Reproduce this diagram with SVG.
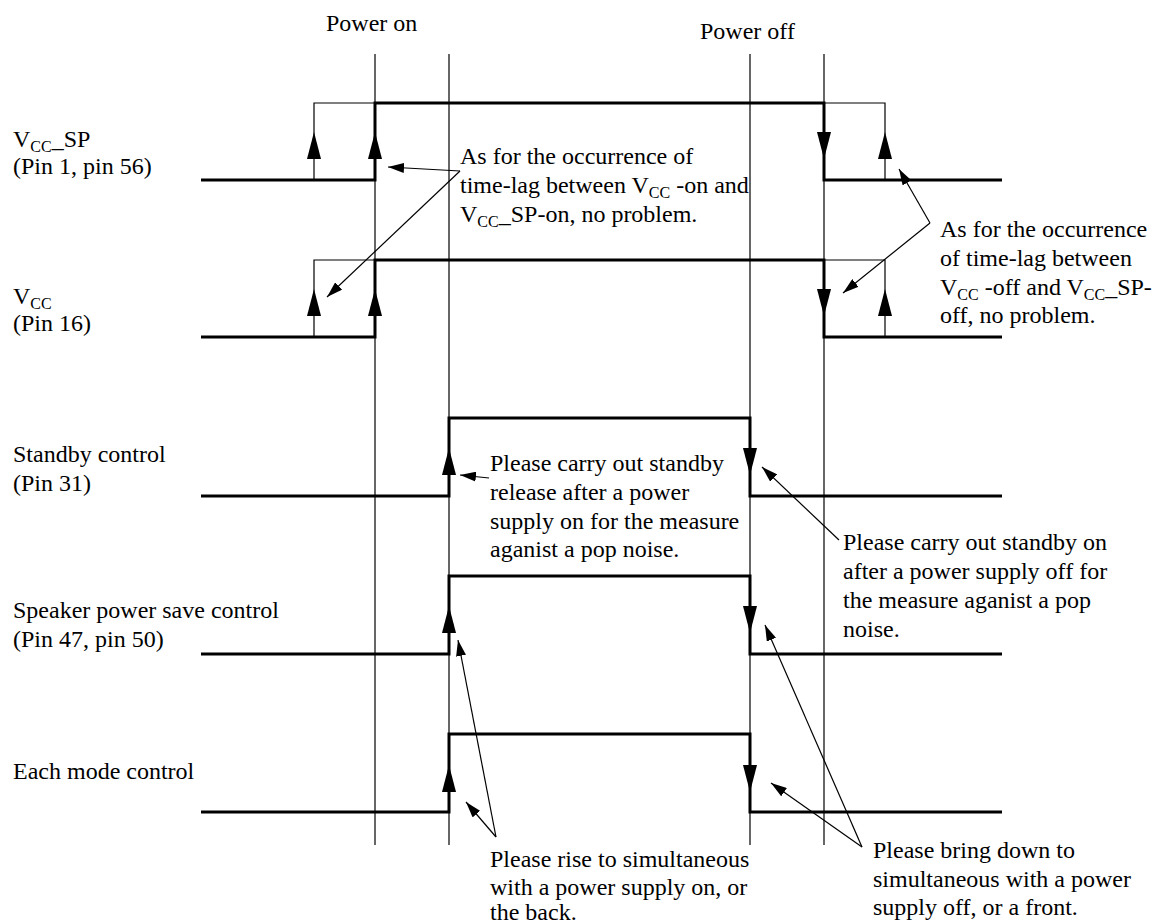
<svg xmlns="http://www.w3.org/2000/svg" xmlns:xlink="http://www.w3.org/1999/xlink" width="1152" height="924" viewBox="0 0 1152 924">
<style>
text{font-family:"Liberation Serif",Tinos,"Times New Roman",Times,"DejaVu Serif",serif;font-size:24px;fill:#000}
.sub{font-size:16px}
.guide{stroke:#000;stroke-width:1.2;fill:none}
.sig{stroke:#000;stroke-width:3;fill:none}
.thin{stroke:#000;stroke-width:1.2;fill:none}
.ann{stroke:#000;stroke-width:1.2;fill:none;marker-end:url(#ah)}
</style>
<defs>
<marker id="ah" viewBox="0 0 16 10" refX="16" refY="5" markerWidth="16" markerHeight="10" markerUnits="userSpaceOnUse" orient="auto">
<path d="M0,0 L16,5 L0,10 Z" fill="#000"/>
</marker>
<path id="up" d="M0,0 L-7,27 L7,27 Z" fill="#000"/>
<path id="dn" d="M-7,0 L7,0 L0,27 Z" fill="#000"/>
</defs>
<rect width="1152" height="924" fill="#fff"/>

<g id="guides">
<line class="guide" x1="375" y1="54" x2="375" y2="845"/>
<line class="guide" x1="449" y1="54" x2="449" y2="845"/>
<line class="guide" x1="750" y1="54" x2="750" y2="845"/>
<line class="guide" x1="824" y1="54" x2="824" y2="845"/>
<text x="326" y="31">Power on</text>
<text x="700" y="39">Power off</text>
</g>

<g id="vccsp">
<text x="13" y="147">V<tspan class="sub" dy="5">CC</tspan><tspan dy="-5">_SP</tspan></text>
<text x="13" y="174">(Pin 1, pin 56)</text>
<path class="sig" d="M201,180 H375 V103 H824 V180 H1002"/>
<path class="thin" d="M314,180 V103 H375 M824,103 H885 V180"/>
<use xlink:href="#up" x="314" y="132"/>
<use xlink:href="#up" x="375" y="132"/>
<use xlink:href="#dn" x="824" y="132"/>
<use xlink:href="#up" x="885" y="132"/>
</g>

<g id="vcc">
<text x="13" y="304">V<tspan class="sub" dy="5">CC</tspan></text>
<text x="13" y="331">(Pin 16)</text>
<path class="sig" d="M201,337 H375 V260 H824 V337 H1002"/>
<path class="thin" d="M314,337 V260 H375 M824,260 H885 V337"/>
<use xlink:href="#up" x="314" y="289"/>
<use xlink:href="#up" x="375" y="289"/>
<use xlink:href="#dn" x="824" y="289"/>
<use xlink:href="#up" x="885" y="289"/>
</g>

<g id="standby">
<text x="13" y="462">Standby control</text>
<text x="13" y="491">(Pin 31)</text>
<path class="sig" d="M201,496 H449 V418 H750 V496 H1002"/>
<use xlink:href="#up" x="449" y="448"/>
<use xlink:href="#dn" x="750" y="448"/>
</g>

<g id="speaker">
<text x="13" y="618">Speaker power save control</text>
<text x="13" y="647">(Pin 47, pin 50)</text>
<path class="sig" d="M201,654 H449 V576 H750 V654 H1002"/>
<use xlink:href="#up" x="449" y="606"/>
<use xlink:href="#dn" x="750" y="606"/>
</g>

<g id="eachmode">
<text x="13" y="779">Each mode control</text>
<path class="sig" d="M201,812 H449 V734 H750 V812 H1002"/>
<use xlink:href="#up" x="449" y="765"/>
<use xlink:href="#dn" x="750" y="765"/>
</g>

<g id="note-on-lag">
<text x="460" y="164">As for the occurrence of</text>
<text x="460" y="193">time-lag between V<tspan class="sub" dy="5">CC</tspan><tspan dy="-5"> -on and</tspan></text>
<text x="460" y="222">V<tspan class="sub" dy="5">CC</tspan><tspan dy="-5">_SP-on, no problem.</tspan></text>
</g>

<g id="note-off-lag">
<text x="940" y="237">As for the occurrence</text>
<text x="940" y="266">of time-lag between</text>
<text x="940" y="295">V<tspan class="sub" dy="5">CC</tspan><tspan dy="-5"> -off and V</tspan><tspan class="sub" dy="5">CC</tspan><tspan dy="-5">_SP-</tspan></text>
<text x="940" y="323">off, no problem.</text>
</g>

<g id="note-standby-release">
<text x="490" y="471">Please carry out standby</text>
<text x="490" y="500">release after a power</text>
<text x="490" y="529">supply on for the measure</text>
<text x="490" y="557">aganist a pop noise.</text>
</g>

<g id="note-standby-on">
<text x="843" y="550">Please carry out standby on</text>
<text x="843" y="579">after a power supply off for</text>
<text x="843" y="608">the measure aganist a pop</text>
<text x="843" y="637">noise.</text>
</g>

<g id="note-rise">
<text x="490" y="867">Please rise to simultaneous</text>
<text x="490" y="895">with a power supply on, or</text>
<text x="490" y="920">the back.</text>
</g>

<g id="note-fall">
<text x="873" y="858">Please bring down to</text>
<text x="873" y="887">simultaneous with a power</text>
<text x="873" y="915">supply off, or a front.</text>
</g>

<g id="connectors">
<line class="ann" x1="460" y1="171" x2="388" y2="167"/>
<line class="ann" x1="460" y1="171" x2="327" y2="297"/>
<line class="ann" x1="930" y1="223" x2="899" y2="169"/>
<line class="ann" x1="930" y1="223" x2="843" y2="293"/>
<line class="ann" x1="489" y1="478" x2="460" y2="475"/>
<line class="ann" x1="839" y1="540" x2="762" y2="467"/>
<line class="ann" x1="496" y1="837" x2="458" y2="640"/>
<line class="ann" x1="496" y1="837" x2="466" y2="802"/>
<line class="ann" x1="862" y1="847" x2="765" y2="625"/>
<line class="ann" x1="862" y1="847" x2="771" y2="783"/>
</g>
</svg>
